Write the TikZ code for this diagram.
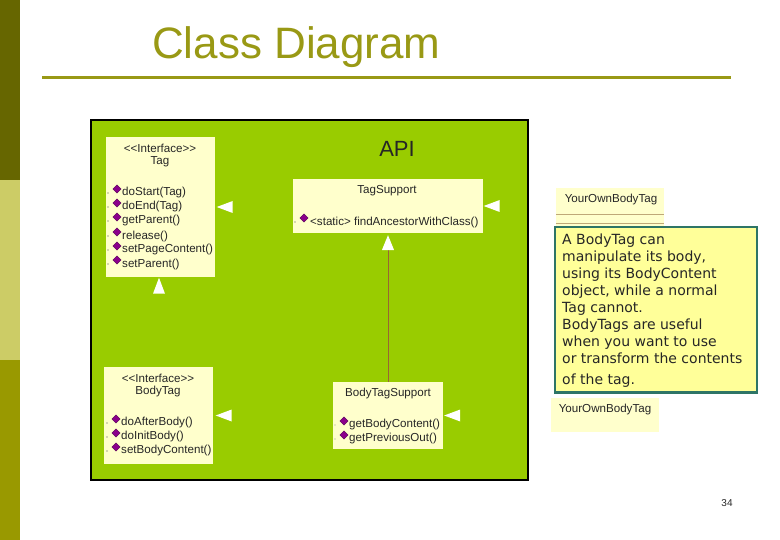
\documentclass[tikz,border=0pt]{standalone}
\usepackage{fontspec}
\setmainfont{Liberation Sans}
\newfontfamily\notefont{DejaVu Sans}
\usetikzlibrary{arrows.meta,shapes.geometric,positioning}
\definecolor{barA}{HTML}{666600}
\definecolor{barB}{HTML}{CCCC66}
\definecolor{barC}{HTML}{999900}
\definecolor{titlecol}{HTML}{999915}
\definecolor{panelcol}{HTML}{99CC00}
\definecolor{classcol}{HTML}{FFFFCC}
\definecolor{linkcol}{HTML}{996633}
\definecolor{notecol}{HTML}{FFFF99}
\definecolor{noteline}{HTML}{2E7566}
\definecolor{iconcol}{HTML}{8B008B}
\definecolor{tancol}{HTML}{BFA878}

\begin{document}
\begin{tikzpicture}[x=1pt,y=-1pt,
            classbox/.style={rectangle, fill=classcol, inner sep=0pt},
            txt/.style={font=\fontsize{11.6}{13}\selectfont, inner sep=0pt, text=black!85},
            meth/.style={txt, anchor=west},
            icon/.style={diamond, fill=iconcol, draw=iconcol!60!black, line width=.4pt,
                    minimum size=8.5pt, inner sep=0pt},
            tick/.style={circle, fill=black!70, minimum size=1.3pt, inner sep=0pt},
            tipnode/.style={isosceles triangle, isosceles triangle stretches, fill=white,
                    minimum width=12pt, minimum height=16pt, inner sep=0pt, anchor=apex},
            tipleft/.style={tipnode, shape border rotate=180},
            tipup/.style={tipnode, shape border rotate=90}]

        \useasboundingbox (0,0) rectangle (780,540);
        % side bar
        \fill[barA] (0,0) rectangle (20,180);
        \fill[barB] (0,180) rectangle (20,360);
        \fill[barC] (0,360) rectangle (20,540);

        \node[anchor=west, inner sep=0pt, text=titlecol, font=\fontsize{44}{50}\selectfont] (title) at (152,47) {Class Diagram};
        \fill[titlecol] (42,76.5) rectangle (731,79.5);

        \node[rectangle, draw=black, line width=2pt, fill=panelcol, minimum width=437pt, minimum height=359pt, inner sep=0pt] (panel) at (309,300) {};
        \node[inner sep=0pt, font=\fontsize{22}{26}\selectfont, text=black!85] (api) at (397,149) {API};

        % classes
        \node[classbox, minimum width=109pt, minimum height=140pt] (tag) at (160.5,207) {};
        \node[classbox, minimum width=190pt, minimum height=54pt] (support) at (388,206) {};
        \node[classbox, minimum width=109pt, minimum height=97pt] (body) at (158.5,415.5) {};
        \node[classbox, minimum width=110pt, minimum height=67pt] (bodysupport) at (388,415.5) {};

        \node[txt] (tagS) at (160,148) {<{}<Interface>{}>};
        \node[txt] (tagN) at (160,162) {Tag};
        \node[txt] (bodyS) at (158,378) {<{}<Interface>{}>};
        \node[txt] (bodyN) at (158,392) {BodyTag};
        \node[txt] (supportN) at (387,191) {TagSupport};
        \node[txt] (bodysupportN) at (388,394) {BodyTagSupport};

        % operations
        \foreach \yy/\op in {192/doStart(Tag),206/doEnd(Tag),220/getParent(),235/release(),249/setPageContent(),263/setParent()} {
            \node[tick] (a\yy) at (108,\yy+1) {};
            \node[icon] (b\yy) at (117,\yy-3) {};
            \node[meth] (c\yy) at (122,\yy+1) {\op};
        }
        \foreach \yy/\op in {422/doAfterBody(),436/doInitBody(),450/setBodyContent()} {
            \node[tick] (a\yy) at (107,\yy+1) {};
            \node[icon] (b\yy) at (116,\yy-3) {};
            \node[meth] (c\yy) at (121,\yy+1) {\op};
        }
        \foreach \yy/\op in {424/getBodyContent(),438/getPreviousOut()} {
            \node[tick, fill=black!40] (a\yy) at (335,\yy+1) {};
            \node[icon] (b\yy) at (344,\yy-3) {};
            \node[meth] (c\yy) at (349,\yy+1) {\op};
        }
        \node[tick] (a221) at (295,222) {};
        \node[icon] (b221) at (304,218) {};
        \node[meth] (c221) at (310,222) {<static> findAncestorWithClass()};

        % inheritance
        \draw[linkcol, line width=1pt, shorten >=2pt, -{Triangle[length=15pt,width=12pt,color=white]}] (bodysupport) -- (support);
        \node[tipleft, right=1pt of tag, anchor=apex] (tagTip) {};
        \node[tipleft, right=0pt of support, anchor=apex] (supportTip) {};
        \node[tipleft, right=2pt of body, anchor=apex] (bodyTip) {};
        \node[tipleft, right=0.5pt of bodysupport, anchor=apex] (bodysupportTip) {};
        \node[tipup, below=0pt of tag, xshift=-1.5pt, anchor=apex] (tagUp) {};

        % your own tag
        \node[classbox, minimum width=108pt, minimum height=39pt] (own) at (610,207.5) {};
        \node[txt] (ownN) at (611,200) {YourOwnBodyTag};
        \draw[tancol, line width=.8pt] ([yshift=-27pt]own.north west) -- ([yshift=-27pt]own.north east);
        \draw[tancol, line width=.8pt] ([yshift=-36pt]own.north west) -- ([yshift=-36pt]own.north east);
        \node[classbox, minimum width=108pt, minimum height=34pt] (own2) at (605,415) {};
        \node[txt] (own2N) at (605,410) {YourOwnBodyTag};

        \node[draw=noteline, line width=2pt, fill=notecol, minimum width=202pt, minimum height=165pt, inner sep=0pt] (note) at (655.5,310) {};
        \node[anchor=north west, inner sep=0pt, align=left, text=black!85,
              font=\notefont\fontsize{14}{17}\selectfont] (noteT) at (562,234)
              {A BodyTag can\\manipulate its body,\\using its BodyContent\\object, while a normal\\Tag cannot.\\BodyTags are useful\\when you want to use\\or transform the contents\\[4pt]of the tag.};

        \node[inner sep=0pt, font=\fontsize{10}{12}\selectfont, text=black!85] (page) at (727,503) {34};
    \end{tikzpicture}
\end{document}
